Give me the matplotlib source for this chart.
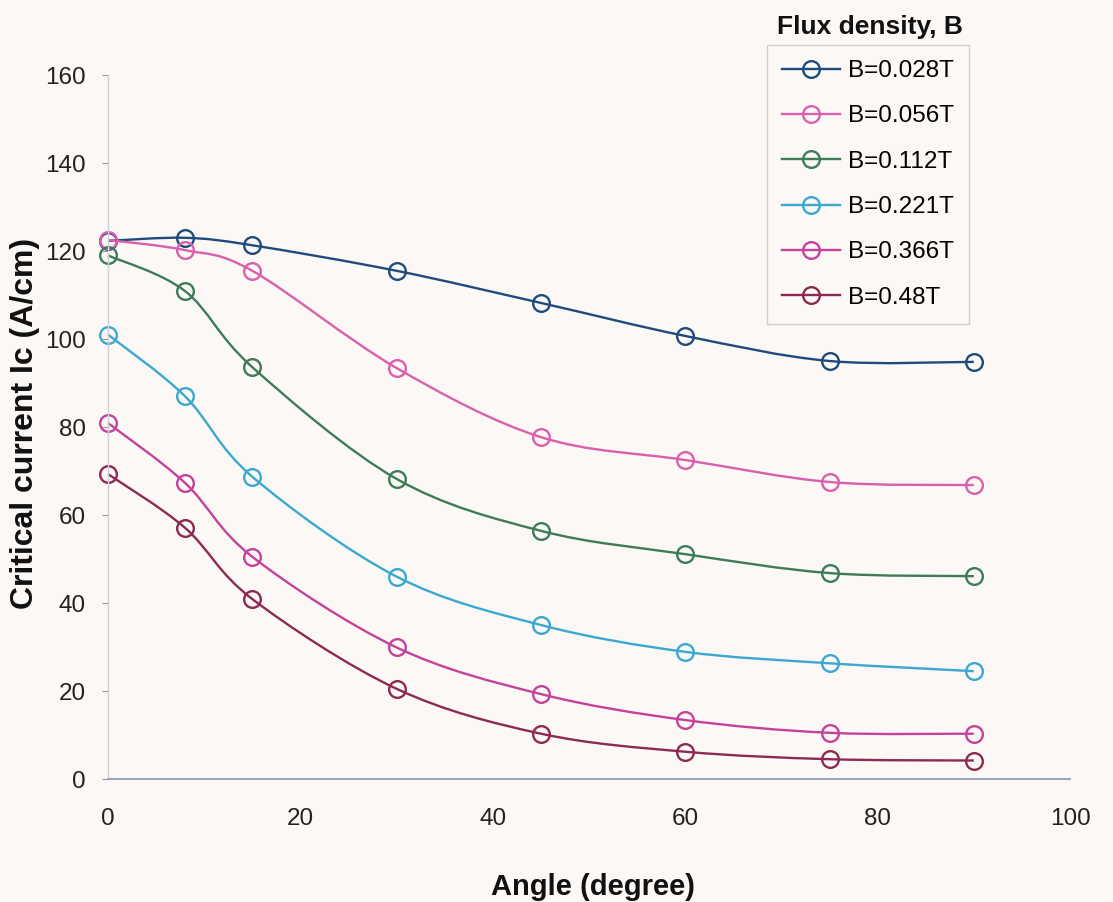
import numpy as np
import matplotlib.pyplot as plt
from matplotlib.path import Path
from matplotlib.patches import PathPatch
from matplotlib.lines import Line2D

plt.rcParams['font.family'] = ['Liberation Sans', 'DejaVu Sans']

angle = [0, 8, 15, 30, 45, 60, 75, 90]

b_028 = [122.3, 123.0, 121.3, 115.5, 108.2, 100.7, 95.0, 94.8]
b_056 = [122.5, 120.2, 115.5, 93.4, 77.7, 72.5, 67.5, 66.8]
b_112 = [119.0, 110.9, 93.6, 68.2, 56.4, 51.1, 46.8, 46.1]
b_221 = [101.0, 87.0, 68.7, 46.0, 35.0, 28.9, 26.3, 24.5]
b_366 = [80.9, 67.3, 50.5, 29.9, 19.3, 13.4, 10.5, 10.3]
b_48 = [69.3, 57.1, 40.9, 20.5, 10.3, 6.2, 4.5, 4.2]

labels = ['B=0.028T', 'B=0.056T', 'B=0.112T', 'B=0.221T', 'B=0.366T', 'B=0.48T']
colors = ['#1f4b7c', '#da5fae', '#3e7b57', '#3ba8cf', '#c4429c', '#8c2a53']
series = [b_028, b_056, b_112, b_221, b_366, b_48]

bg = '#fbf8f5'


# smooth line like excel : cubic bezier through the points
def smooth_path(x, y):
    p = np.column_stack([x, y]).astype(float)
    n = len(p)
    verts = [p[0]]
    codes = [Path.MOVETO]
    for i in range(n-1):
        p0 = p[i-1] if i > 0 else p[i]
        p1 = p[i]
        p2 = p[i+1]
        p3 = p[i+2] if i+2 < n else p[i+1]
        c1 = p1 + (p2 - p0)/6
        c2 = p2 - (p3 - p1)/6
        verts += [c1, c2, p2]
        codes += [Path.CURVE4]*3
    return Path(verts, codes)


fig = plt.figure(figsize=(11.13, 9.02), dpi=100, facecolor=bg)
ax = fig.add_axes([108/1113, 1-779/902, (1070-108)/1113, (779-75)/902])
ax.set_facecolor(bg)

handles = []
for ys, c, lab in zip(series, colors, labels):
    ax.add_patch(PathPatch(smooth_path(angle, ys), fc='none', ec=c, lw=1.7, clip_on=False))
    ax.plot(angle, ys, ls='none', marker='o', ms=12, mfc='none', mec=c, mew=1.7, clip_on=False)
    handles.append(Line2D([], [], color=c, lw=1.7, marker='o', ms=12, mfc='none', mec=c, mew=1.7))

ax.set_xlim(0, 100)
ax.set_ylim(0, 160)
ax.set_xticks(np.arange(0, 101, 20))
ax.set_yticks(np.arange(0, 161, 20))

for s in ['top', 'right']:
    ax.spines[s].set_visible(False)
ax.spines['left'].set_color('#d0d0d8')
ax.spines['left'].set_linewidth(1.0)
ax.spines['bottom'].set_color('#8ea0b2')
ax.spines['bottom'].set_linewidth(1.3)

ax.tick_params(axis='y', length=4, width=0.8, color='#999999', pad=12,
               labelsize=17.5, labelcolor='#222222')
ax.tick_params(axis='x', length=0, pad=21, labelsize=17.5, labelcolor='#222222')

fig.text(25/1113, 1-423/902, 'Critical current Ic (A/cm)', rotation=90,
         ha='center', va='center', fontsize=23, fontweight='bold', color='#111111')
fig.text(593/1113, 1-887/902, 'Angle (degree)', ha='center', va='center',
         fontsize=21, fontweight='bold', color='#111111')

leg = fig.legend(handles, labels, loc='upper left', bbox_to_anchor=(767/1113, 1-45/902),
                 fontsize=17.5, labelspacing=0.96, handlelength=2.4, handletextpad=0.3,
                 borderpad=0.62, borderaxespad=0, frameon=True, fancybox=False,
                 facecolor=bg, edgecolor='#cfcfcf', framealpha=1)
leg.get_frame().set_linewidth(1.0)
fig.text(870/1113, 1-27/902, 'Flux density, B', ha='center', va='center',
         fontsize=19, fontweight='bold', color='#111111')

plt.savefig('out.png', dpi=100, facecolor=bg)
